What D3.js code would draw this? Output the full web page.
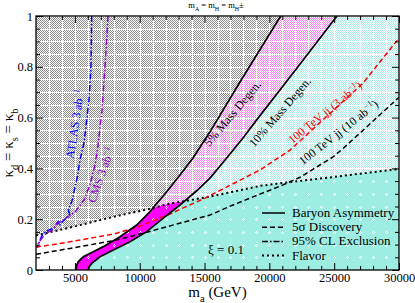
<!DOCTYPE html>
<html><head><meta charset="utf-8">
<script src="https://cdn.jsdelivr.net/npm/d3@7"></script>
<style>
body{margin:0;background:#fff}
svg{display:block}
text{font-family:"Liberation Serif","Times New Roman",serif}
</style>
</head><body>
<svg id="c" width="415" height="303"></svg>
<script>
// ---------- data ----------
const xTicks = [5000, 10000, 15000, 20000, 25000, 30000];
const yTicks = [0, 0.2, 0.4, 0.6, 0.8, 1];
const xMinor = d3.range(3000, 30000, 1000);
const yMinor = d3.range(0.05, 1, 0.05);

const baryon5 = [[5080,0],[5130,0.018],[5263,0.033],[5649,0.052],[6420,0.072],[7191,0.092],[8480,0.131],[9768,0.177],[10794,0.230],[12082,0.308],[13108,0.374],[14111,0.441],[15422,0.544],[17736,0.740],[20876,1.0]];
const baryon10 = [[6034,0],[6120,0.014],[6297,0.026],[6937,0.052],[7963,0.079],[9251,0.111],[10539,0.151],[11820,0.204],[13108,0.256],[14396,0.312],[15422,0.362],[16710,0.441],[17967,0.520],[19024,0.591],[22133,0.795],[25218,1.0]];
const flavor = [[2000,0.136],[4623,0.167],[8017,0.210],[10640,0.239],[12082,0.259],[15422,0.289],[19279,0.331],[21053,0.343],[24910,0.366],[30000,0.398]];
const jj3 = [[2000,0.09],[4623,0.111],[8017,0.142],[9768,0.168],[12082,0.215],[15036,0.283],[19279,0.394],[21593,0.472],[27224,0.736],[29924,0.908]];
const jj10 = [[2000,0.062],[4623,0.085],[8017,0.116],[9768,0.138],[15422,0.2165],[17196,0.256],[21053,0.335],[22364,0.365],[24910,0.445],[25681,0.478],[30000,0.68]];
const atlas = [[6297,1.0],[6242,0.80],[6088,0.669],[5911,0.591],[5703,0.5],[5394,0.433],[5186,0.367],[4800,0.276],[4500,0.235],[4620,0.215],[4160,0.197],[3800,0.175],[3700,0.19],[3388,0.165],[3000,0.158],[2617,0.146],[2400,0.13],[2231,0.106],[2100,0.09]];
const cms = [[7554,1.0],[7323,0.803],[7091,0.630],[6783,0.492],[6551,0.413],[6165,0.335],[5703,0.276],[5008,0.228],[4083,0.197],[3600,0.18],[3234,0.157],[2800,0.145],[2463,0.126],[2077,0.098]];

const legendNames = ["Baryon Asymmetry", "5\u03c3 Discovery", "95% CL Exclusion", "Flavor"];
const legendDash = [null, "5,3", "6,2,1.5,2", "2,3"];

// ---------- layout ----------
const svg = d3.select('#c');
const x = d3.scaleLinear().domain([2000, 30000]).range([36, 399]);
const y = d3.scaleLinear().domain([0, 1]).range([270, 16]);
const line = d3.line().x(d => x(d[0])).y(d => y(d[1]));

const defs = svg.append('defs');
function checker(id, color) {
  const p = defs.append('pattern').attr('id', id).attr('patternUnits', 'userSpaceOnUse')
    .attr('width', 2).attr('height', 2);
  p.append('rect').attr('width', 2).attr('height', 2).attr('fill', '#fff');
  p.append('rect').attr('width', 1).attr('height', 1).attr('fill', color);
  p.append('rect').attr('x', 1).attr('y', 1).attr('width', 1).attr('height', 1).attr('fill', color);
}
checker('pg', '#8a8a8a');
checker('pm', '#ff80ff');
checker('pc', '#a6efe5');

defs.append('clipPath').attr('id', 'plot').append('rect')
  .attr('x', 36).attr('y', 16).attr('width', 363).attr('height', 254);
defs.append('clipPath').attr('id', 'above').append('path')
  .attr('d', line(flavor.concat([[30000, 1], [2000, 1]])) + 'Z');
defs.append('clipPath').attr('id', 'below').append('path')
  .attr('d', line(flavor.concat([[30000, 0], [2000, 0]])) + 'Z');

const regA = [[2000, 0]].concat(baryon5, [[2000, 1]]);
const regB = baryon5.concat(baryon10.slice().reverse());
const regC = baryon10.concat([[30000, 1], [30000, 0]]);

const plot = svg.append('g').attr('clip-path', 'url(#plot)');
// solid fills
plot.append('path').attr('d', line(regA) + 'Z').attr('fill', '#fff');
plot.append('path').attr('d', line(regB) + 'Z').attr('fill', '#ff00ff');
plot.append('path').attr('d', line(regC) + 'Z').attr('fill', '#9eede2');

// grid dots in solid region
const gd = plot.append('g').attr('clip-path', 'url(#below)');
xMinor.concat(xTicks).forEach(gx => {
  yMinor.concat(yTicks).forEach(gy => {
    const px = Math.round(x(gx)), py = Math.round(y(gy));
    [[-1, 0], [1, 0], [0, -1], [0, 1]].forEach(o => {
      gd.append('rect').attr('x', px + o[0]).attr('y', py + o[1]).attr('width', 1).attr('height', 1).attr('fill', '#fff');
    });
  });
});

// hatched (flavor-excluded) region
const hat = plot.append('g').attr('clip-path', 'url(#above)');
hat.append('path').attr('d', line(regA) + 'Z').attr('fill', 'url(#pg)');
hat.append('path').attr('d', line(regB) + 'Z').attr('fill', 'url(#pm)');
hat.append('path').attr('d', line(regC) + 'Z').attr('fill', 'url(#pc)');
xMinor.concat(xTicks).forEach(gx => {
  const px = Math.round(x(gx)) + 0.5;
  hat.append('line').attr('x1', px).attr('x2', px).attr('y1', 16).attr('y2', 270)
    .attr('stroke', '#fff').attr('stroke-width', 1);
});
yMinor.concat(yTicks).forEach(gy => {
  const py = Math.round(y(gy)) + 0.5;
  hat.append('line').attr('x1', 36).attr('x2', 399).attr('y1', py).attr('y2', py)
    .attr('stroke', '#fff').attr('stroke-width', 1);
});

// curves
function curve(data, color, width, dash) {
  const p = plot.append('path').attr('d', line(data)).attr('fill', 'none')
    .attr('stroke', color).attr('stroke-width', width);
  if (dash) p.attr('stroke-dasharray', dash);
  return p;
}
curve(flavor, '#000', 2, '2,3');
curve(jj3, '#ff0000', 1.5, '5,3');
curve(jj10, '#000', 1.5, '5,3');
curve(atlas, '#0000ff', 1.5, '6,2,1.5,2');
curve(cms, '#9400d3', 1.5, '6,2,1.5,2');
curve(baryon5, '#000', 1.7, null);
curve(baryon10, '#000', 1.7, null);

// rich text helper
function rich(sel, parts, fs) {
  let cur = 0;
  parts.forEach(p => {
    const s = p.sup ? -fs * 0.4 : (p.sub ? fs * 0.3 : 0);
    const t = sel.append('tspan').text(p.t);
    if (p.sup || p.sub) t.attr('font-size', fs * 0.7);
    if (s !== cur) t.attr('dy', s - cur);
    cur = s;
  });
}
function note(px, py, ang, color, parts, fs) {
  const t = svg.append('text').attr('transform', `translate(${px},${py}) rotate(${ang})`)
    .attr('text-anchor', 'middle').attr('dy', '0.33em').attr('fill', color).attr('font-size', fs);
  rich(t, parts, fs);
}
note(232.5, 113.5, -50, '#000', [{t: '5% Mass Degen.'}], 12);
note(280, 112, -49, '#000', [{t: '10% Mass Degen.'}], 12);
note(325, 112.5, -39, '#ff0000', [{t: '100 TeV jj (3 ab'}, {t: '\u22121', sup: true}, {t: ')'}], 12);
note(338.5, 132.5, -38, '#000', [{t: '100 TeV jj (10 ab'}, {t: '\u22121', sup: true}, {t: ')'}], 12);
note(75, 124, -81.6, '#0000ff', [{t: 'ATLAS 3 ab'}, {t: '\u22121', sup: true}], 12);
note(101, 175, -70, '#9400d3', [{t: 'CMS 3 ab'}, {t: '\u22121', sup: true}], 12);

svg.append('text').attr('x', 208).attr('y', 254).attr('font-size', 13).text('\u03be = 0.1');

// legend
const lg = svg.append('g');
legendNames.forEach((n, i) => {
  const by = 217 + i * 14.2;
  const l = lg.append('line').attr('x1', 262).attr('x2', 285).attr('y1', by - 4).attr('y2', by - 4)
    .attr('stroke', '#000').attr('stroke-width', i === 3 ? 2 : 1.5);
  if (legendDash[i]) l.attr('stroke-dasharray', legendDash[i]);
  lg.append('text').attr('x', 292).attr('y', by).attr('font-size', 13).text(n);
});

// frame and axes
svg.append('rect').attr('x', 36).attr('y', 16).attr('width', 363).attr('height', 254)
  .attr('fill', 'none').attr('stroke', '#000').attr('stroke-width', 1.3);

function axis(gen, tr, vals, size, labels) {
  const g = svg.append('g').attr('transform', tr)
    .call(gen.tickValues(vals).tickSize(size).tickPadding(3).tickFormat(labels ? d3.format('') : () => ''));
  g.select('.domain').remove();
  g.selectAll('line').attr('stroke', '#000').attr('stroke-width', 1);
  g.selectAll('text').attr('font-size', 12.5).attr('font-family', '"Liberation Serif",serif').attr('fill', '#000');
  return g;
}
axis(d3.axisBottom(x), 'translate(0,270)', xTicks, -7, true);
axis(d3.axisBottom(x), 'translate(0,270)', xMinor.filter(v => !xTicks.includes(v)), -4, false);
axis(d3.axisTop(x), 'translate(0,16)', xTicks, -7, false);
axis(d3.axisTop(x), 'translate(0,16)', xMinor.filter(v => !xTicks.includes(v)), -4, false);
axis(d3.axisLeft(y), 'translate(36,0)', yTicks, -7, true);
axis(d3.axisLeft(y), 'translate(36,0)', yMinor.filter(v => Math.abs(v * 5 - Math.round(v * 5)) > 1e-6), -4, false);
axis(d3.axisRight(y), 'translate(399,0)', yTicks, -7, false);
axis(d3.axisRight(y), 'translate(399,0)', yMinor.filter(v => Math.abs(v * 5 - Math.round(v * 5)) > 1e-6), -4, false);

// axis titles
const xl = svg.append('text').attr('x', 217.5).attr('y', 297).attr('text-anchor', 'middle').attr('font-size', 15);
rich(xl, [{t: 'm'}, {t: 'a', sub: true}, {t: ' (GeV)'}], 15);
const yl = svg.append('text').attr('transform', 'translate(13,143) rotate(-90)').attr('text-anchor', 'middle').attr('font-size', 15);
rich(yl, [{t: '\u03ba'}, {t: 'd', sub: true}, {t: ' = \u03ba'}, {t: 's', sub: true}, {t: ' = \u03ba'}, {t: 'b', sub: true}], 15);

const tl = svg.append('text').attr('x', 216).attr('y', 8).attr('text-anchor', 'middle').attr('font-size', 8.5);
rich(tl, [{t: 'm'}, {t: 'A', sub: true}, {t: ' = m'}, {t: 'H', sub: true}, {t: ' = m'}, {t: 'H', sub: true}, {t: '\u00b1'}], 8.5);
</script>
</body></html>
